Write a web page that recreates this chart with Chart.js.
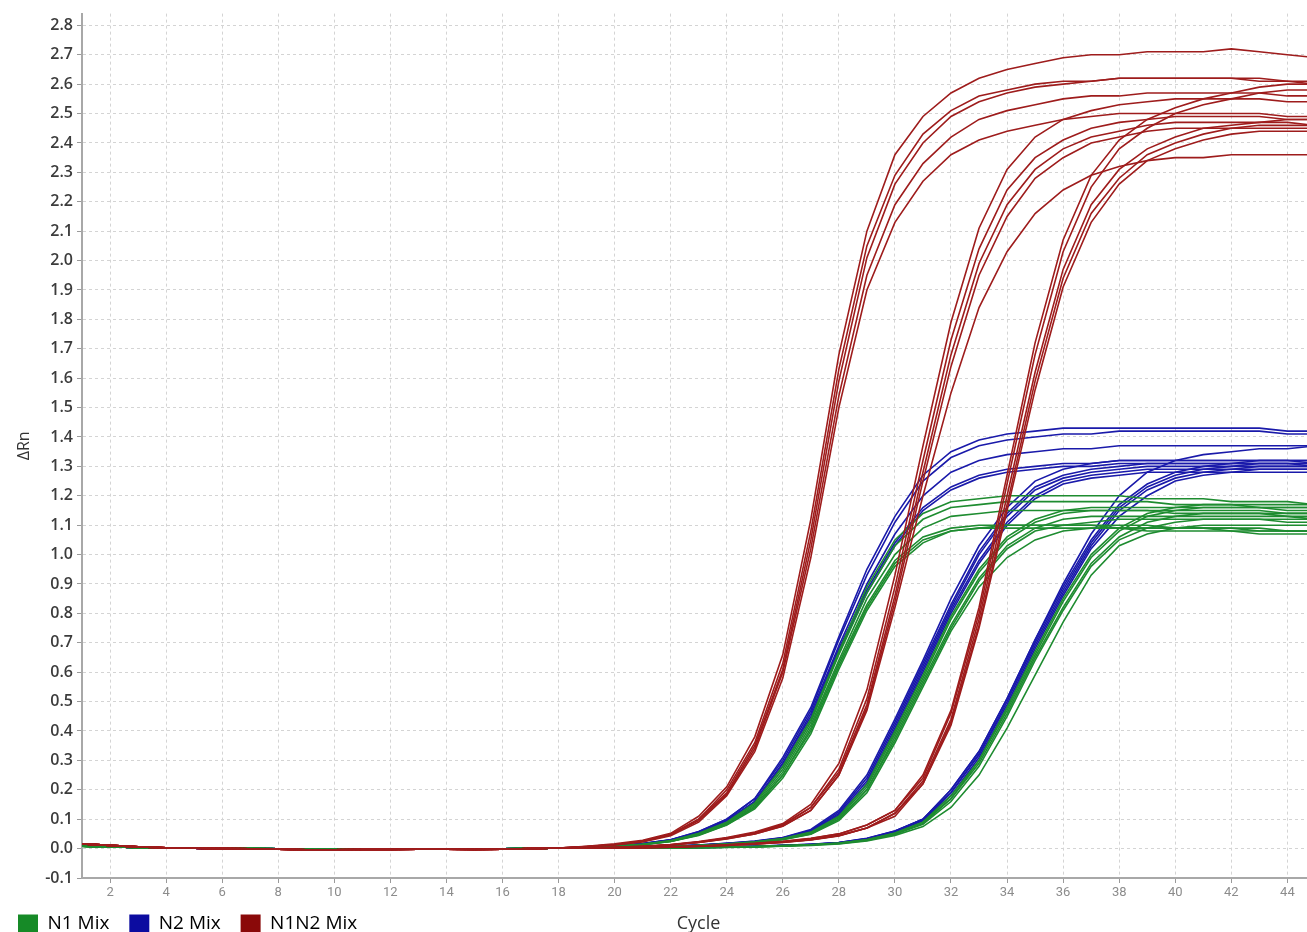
<!DOCTYPE html>
<html>
<head>
<meta charset="utf-8">
<script src="https://cdn.jsdelivr.net/npm/chart.js@4.4.1/dist/chart.umd.min.js"></script>
<style>
  html, body { margin: 0; padding: 0; background: #fff; }
</style>
</head>
<body>
<canvas id="ampChart" width="1307" height="932"></canvas>
<script>
// cycle numbers on the x axis
const cycles = [1,2,3,4,5,6,7,8,9,10,11,12,13,14,15,16,17,18,19,20,21,22,23,24,25,26,27,28,29,30,31,32,33,34,35,36,37,38,39,40,41,42,43,44,45];

// baseline (cycles 1-18), almost flat for every well
const baselineN1 = [0.008,0.006,0.004,0.002,0.001,0.001,0,-0.001,-0.003,-0.003,-0.002,-0.002,-0.001,-0.001,-0.002,-0.001,0,0.002];
const baselineN2 = [0.009,0.006,0.004,0.002,0.001,0,0,-0.001,-0.003,-0.003,-0.002,-0.002,-0.001,-0.001,-0.002,-0.001,0,0.002];
const baselineN1N2 = [0.016,0.011,0.006,0.003,0.001,0,-0.001,-0.002,-0.004,-0.004,-0.003,-0.003,-0.002,-0.002,-0.003,-0.002,0,0.002];

// ΔRn for cycles 19-45, one row per well
const n1Curves = [
  [0.003,0.008,0.015,0.027,0.052,0.09,0.155,0.28,0.44,0.67,0.89,1.05,1.14,1.18,1.19,1.20,1.20,1.20,1.20,1.20,1.19,1.19,1.19,1.18,1.18,1.18,1.17],
  [0.003,0.008,0.015,0.026,0.05,0.088,0.15,0.27,0.43,0.66,0.87,1.03,1.12,1.16,1.17,1.18,1.18,1.18,1.18,1.18,1.18,1.17,1.17,1.17,1.16,1.16,1.16],
  [0.003,0.007,0.014,0.025,0.048,0.085,0.145,0.26,0.42,0.64,0.85,1.00,1.09,1.13,1.14,1.15,1.15,1.15,1.15,1.15,1.15,1.14,1.14,1.14,1.14,1.13,1.13],
  [0.003,0.007,0.014,0.025,0.047,0.083,0.14,0.25,0.41,0.63,0.83,0.98,1.06,1.09,1.10,1.10,1.10,1.10,1.10,1.10,1.10,1.09,1.09,1.09,1.09,1.08,1.08],
  [0.003,0.007,0.013,0.024,0.046,0.081,0.14,0.25,0.40,0.62,0.82,0.97,1.05,1.08,1.09,1.10,1.10,1.10,1.10,1.09,1.09,1.09,1.09,1.08,1.08,1.08,1.08],
  [0.003,0.007,0.013,0.024,0.045,0.08,0.135,0.24,0.39,0.61,0.81,0.96,1.04,1.08,1.09,1.09,1.09,1.09,1.09,1.09,1.08,1.08,1.08,1.08,1.07,1.07,1.07],
  [0.001,0.002,0.004,0.007,0.011,0.016,0.023,0.034,0.056,0.11,0.22,0.40,0.59,0.79,0.95,1.06,1.12,1.15,1.16,1.16,1.16,1.16,1.16,1.16,1.16,1.15,1.15],
  [0.001,0.002,0.004,0.007,0.01,0.015,0.022,0.033,0.054,0.105,0.21,0.39,0.58,0.78,0.94,1.05,1.11,1.14,1.15,1.15,1.15,1.15,1.15,1.15,1.15,1.14,1.14],
  [0.001,0.002,0.004,0.006,0.01,0.015,0.021,0.032,0.052,0.10,0.20,0.38,0.57,0.76,0.92,1.03,1.09,1.12,1.13,1.13,1.13,1.13,1.13,1.13,1.13,1.13,1.12],
  [0.001,0.002,0.003,0.006,0.009,0.014,0.02,0.031,0.05,0.10,0.20,0.37,0.56,0.75,0.91,1.02,1.08,1.10,1.11,1.12,1.12,1.12,1.12,1.12,1.12,1.11,1.11],
  [0.001,0.002,0.003,0.006,0.009,0.014,0.02,0.03,0.049,0.095,0.19,0.36,0.55,0.74,0.89,0.99,1.05,1.08,1.09,1.09,1.09,1.09,1.09,1.09,1.08,1.08,1.08],
  [0.001,0.001,0.002,0.003,0.004,0.005,0.007,0.01,0.013,0.019,0.03,0.053,0.09,0.18,0.30,0.48,0.67,0.85,1.00,1.09,1.14,1.16,1.17,1.17,1.17,1.17,1.17],
  [0.001,0.001,0.002,0.003,0.004,0.005,0.007,0.01,0.013,0.018,0.03,0.052,0.09,0.17,0.30,0.47,0.66,0.84,0.99,1.08,1.13,1.15,1.16,1.16,1.16,1.16,1.16],
  [0.001,0.001,0.002,0.002,0.003,0.005,0.006,0.009,0.012,0.018,0.029,0.05,0.085,0.17,0.29,0.46,0.65,0.82,0.97,1.06,1.11,1.13,1.14,1.14,1.14,1.14,1.14],
  [0.001,0.001,0.002,0.002,0.003,0.005,0.006,0.009,0.012,0.017,0.028,0.049,0.083,0.16,0.28,0.45,0.64,0.81,0.96,1.05,1.09,1.11,1.12,1.12,1.12,1.12,1.12],
  [0.001,0.001,0.002,0.002,0.003,0.004,0.006,0.008,0.011,0.016,0.026,0.045,0.075,0.14,0.25,0.41,0.59,0.77,0.93,1.03,1.07,1.09,1.10,1.10,1.10,1.10,1.10]
];

const n2Curves = [
  [0.004,0.009,0.017,0.03,0.058,0.10,0.17,0.31,0.48,0.72,0.95,1.13,1.27,1.35,1.39,1.41,1.42,1.43,1.43,1.43,1.43,1.43,1.43,1.43,1.43,1.42,1.42],
  [0.004,0.009,0.017,0.03,0.057,0.10,0.17,0.30,0.47,0.71,0.93,1.11,1.25,1.33,1.37,1.39,1.40,1.41,1.41,1.42,1.42,1.42,1.42,1.42,1.42,1.41,1.41],
  [0.004,0.008,0.016,0.029,0.055,0.095,0.16,0.29,0.46,0.69,0.90,1.07,1.20,1.28,1.32,1.34,1.35,1.36,1.36,1.37,1.37,1.37,1.37,1.37,1.37,1.37,1.37],
  [0.004,0.008,0.016,0.029,0.055,0.095,0.16,0.29,0.45,0.68,0.88,1.04,1.16,1.23,1.27,1.29,1.30,1.31,1.31,1.32,1.32,1.32,1.32,1.32,1.32,1.32,1.32],
  [0.003,0.008,0.015,0.028,0.053,0.09,0.16,0.28,0.44,0.67,0.87,1.03,1.15,1.22,1.26,1.28,1.29,1.30,1.30,1.31,1.31,1.31,1.31,1.31,1.31,1.31,1.30],
  [0.002,0.003,0.005,0.008,0.012,0.018,0.026,0.038,0.065,0.13,0.25,0.44,0.64,0.85,1.03,1.16,1.25,1.29,1.31,1.32,1.32,1.32,1.32,1.32,1.32,1.32,1.31],
  [0.002,0.003,0.005,0.008,0.012,0.018,0.025,0.037,0.062,0.125,0.24,0.43,0.63,0.83,1.01,1.14,1.23,1.27,1.29,1.30,1.31,1.31,1.31,1.31,1.31,1.31,1.31],
  [0.002,0.003,0.005,0.007,0.011,0.017,0.024,0.036,0.06,0.12,0.23,0.42,0.62,0.82,1.00,1.13,1.22,1.26,1.28,1.29,1.30,1.30,1.30,1.30,1.30,1.30,1.30],
  [0.001,0.003,0.004,0.007,0.011,0.016,0.023,0.035,0.058,0.115,0.22,0.41,0.61,0.81,0.98,1.11,1.20,1.25,1.27,1.28,1.29,1.29,1.29,1.29,1.29,1.29,1.29],
  [0.001,0.003,0.004,0.007,0.011,0.016,0.023,0.034,0.057,0.11,0.22,0.40,0.60,0.80,0.97,1.10,1.19,1.24,1.26,1.27,1.28,1.28,1.28,1.28,1.28,1.28,1.28],
  [0.001,0.001,0.002,0.003,0.004,0.006,0.008,0.011,0.015,0.021,0.035,0.06,0.10,0.20,0.33,0.51,0.71,0.90,1.07,1.20,1.28,1.32,1.34,1.35,1.36,1.36,1.37],
  [0.001,0.001,0.002,0.003,0.004,0.006,0.008,0.011,0.015,0.021,0.034,0.06,0.10,0.20,0.33,0.51,0.71,0.89,1.05,1.17,1.24,1.28,1.30,1.31,1.32,1.32,1.32],
  [0.001,0.001,0.002,0.003,0.004,0.005,0.007,0.01,0.014,0.02,0.033,0.058,0.10,0.19,0.32,0.50,0.70,0.88,1.04,1.16,1.23,1.27,1.29,1.30,1.31,1.31,1.31],
  [0.001,0.001,0.002,0.003,0.004,0.005,0.007,0.01,0.014,0.02,0.032,0.056,0.095,0.19,0.32,0.49,0.69,0.87,1.03,1.15,1.22,1.26,1.28,1.29,1.30,1.30,1.30],
  [0.001,0.001,0.002,0.003,0.004,0.005,0.007,0.01,0.013,0.019,0.031,0.055,0.095,0.18,0.31,0.48,0.68,0.86,1.02,1.13,1.20,1.25,1.27,1.28,1.29,1.29,1.29]
];

const n1n2Curves = [
  [0.008,0.016,0.028,0.052,0.11,0.21,0.38,0.66,1.12,1.68,2.10,2.36,2.49,2.57,2.62,2.65,2.67,2.69,2.70,2.70,2.71,2.71,2.71,2.72,2.71,2.70,2.69],
  [0.007,0.014,0.026,0.049,0.10,0.20,0.36,0.63,1.08,1.63,2.05,2.29,2.43,2.51,2.56,2.58,2.60,2.61,2.61,2.62,2.62,2.62,2.62,2.62,2.61,2.61,2.60],
  [0.007,0.014,0.025,0.047,0.10,0.19,0.35,0.61,1.05,1.59,2.01,2.26,2.40,2.49,2.54,2.57,2.59,2.60,2.61,2.62,2.62,2.62,2.62,2.62,2.62,2.61,2.61],
  [0.006,0.013,0.024,0.046,0.095,0.185,0.34,0.60,1.02,1.54,1.95,2.19,2.33,2.42,2.48,2.51,2.53,2.55,2.56,2.56,2.57,2.57,2.57,2.57,2.57,2.56,2.56],
  [0.006,0.012,0.023,0.044,0.09,0.18,0.33,0.58,0.99,1.50,1.90,2.13,2.27,2.36,2.41,2.44,2.46,2.48,2.49,2.50,2.50,2.50,2.50,2.50,2.50,2.49,2.49],
  [0.002,0.004,0.008,0.014,0.024,0.038,0.056,0.085,0.15,0.29,0.54,0.93,1.37,1.79,2.11,2.31,2.42,2.48,2.51,2.53,2.54,2.55,2.55,2.55,2.55,2.54,2.54],
  [0.002,0.004,0.008,0.013,0.022,0.036,0.054,0.082,0.14,0.27,0.51,0.89,1.32,1.73,2.04,2.24,2.35,2.41,2.45,2.47,2.48,2.49,2.49,2.49,2.49,2.48,2.48],
  [0.002,0.004,0.007,0.013,0.022,0.035,0.052,0.079,0.14,0.26,0.49,0.86,1.28,1.68,1.99,2.19,2.31,2.38,2.42,2.44,2.46,2.47,2.47,2.47,2.47,2.47,2.46],
  [0.001,0.003,0.007,0.012,0.021,0.034,0.050,0.077,0.13,0.25,0.48,0.84,1.25,1.64,1.95,2.15,2.28,2.35,2.40,2.42,2.44,2.45,2.45,2.45,2.45,2.45,2.45],
  [0.001,0.003,0.007,0.012,0.021,0.033,0.050,0.076,0.13,0.25,0.47,0.82,1.20,1.55,1.84,2.03,2.16,2.24,2.29,2.32,2.34,2.35,2.35,2.36,2.36,2.36,2.36],
  [0.001,0.002,0.004,0.006,0.009,0.013,0.018,0.025,0.035,0.05,0.08,0.13,0.25,0.47,0.82,1.27,1.72,2.07,2.29,2.41,2.48,2.52,2.55,2.57,2.59,2.60,2.60],
  [0.001,0.002,0.004,0.006,0.009,0.013,0.017,0.024,0.034,0.05,0.08,0.13,0.24,0.46,0.80,1.24,1.68,2.03,2.25,2.38,2.45,2.50,2.53,2.55,2.57,2.58,2.58],
  [0.001,0.002,0.003,0.005,0.008,0.012,0.016,0.022,0.03,0.045,0.07,0.12,0.23,0.44,0.78,1.20,1.62,1.97,2.19,2.31,2.38,2.42,2.45,2.46,2.47,2.48,2.48],
  [0.001,0.002,0.003,0.005,0.008,0.011,0.016,0.022,0.03,0.044,0.07,0.12,0.22,0.43,0.76,1.17,1.59,1.94,2.16,2.28,2.36,2.40,2.43,2.45,2.46,2.46,2.46],
  [0.001,0.002,0.003,0.005,0.007,0.011,0.015,0.021,0.029,0.043,0.07,0.11,0.22,0.42,0.75,1.15,1.56,1.91,2.13,2.26,2.34,2.38,2.41,2.43,2.44,2.44,2.44]
];

const seriesNames = ["N1 Mix", "N2 Mix", "N1N2 Mix"];
const lineColors = ["#1e8c30", "#1a1aaa", "#9e1c1c"];
const boxColors = ["#168a27", "#0c0ca0", "#8a0909"];

const makeSets = (rows, base, idx) => rows.map(row => ({
  label: seriesNames[idx],
  data: base.concat(row).map((y, i) => ({ x: cycles[i], y })),
  borderColor: lineColors[idx],
  borderWidth: 1.6,
  pointRadius: 0,
  tension: 0,
  fill: false,
  order: [1, 2, 0][idx],
}));

const datasets = [
  ...makeSets(n1n2Curves, baselineN1N2, 2),
  ...makeSets(n1Curves, baselineN1, 0),
  ...makeSets(n2Curves, baselineN2, 1),
];

// "Cycle" sits on the legend row, to the right of the legend
const cycleTitle = {
  id: "cycleTitle",
  afterDraw(chart) {
    const { ctx, chartArea, legend } = chart;
    const y = legend.top + legend.options.labels.padding + 9.5;
    ctx.save();
    ctx.font = "18px 'Open Sans'";
    ctx.fillStyle = "#333";
    ctx.textAlign = "center";
    ctx.textBaseline = "middle";
    ctx.fillText("Cycle", (chartArea.left + chartArea.right) / 2 + 4, y);
    ctx.restore();
  },
};

new Chart(document.getElementById("ampChart"), {
  type: "line",
  data: { datasets },
  options: {
    responsive: false,
    animation: false,
    layout: { padding: { top: 12, right: 0, bottom: -11, left: 8 } },
    plugins: {
      tooltip: { enabled: false },
      legend: {
        position: "bottom",
        align: "start",
        onClick: () => {},
        labels: {
          boxWidth: 20,
          boxHeight: 18,
          padding: 10,
          color: "#444",
          font: { family: "Open Sans", size: 19 },
          // trailing spaces widen the gap between legend entries
          generateLabels: () => seriesNames.map((name, i) => ({
            text: name + "  ",
            fillStyle: boxColors[i],
            strokeStyle: boxColors[i],
            lineWidth: 0,
            hidden: false,
            datasetIndex: i,
          })),
        },
      },
    },
    scales: {
      x: {
        type: "linear",
        min: 1,
        max: 44.7,
        afterFit: (s) => { s.height = 26; },
        ticks: {
          stepSize: 2,
          includeBounds: false,
          color: "#8c8c8c",
          padding: 2,
          maxRotation: 0,
          font: { family: "Roboto", size: 13 },
        },
        grid: { color: "#d4d4d4", tickColor: "#9a9a9a", tickLength: 5 },
        border: { color: "#a8a8a8", width: 2, dash: [3, 3] },
      },
      y: {
        min: -0.1,
        max: 2.84,
        afterFit: (s) => { s.width = 74; },
        ticks: {
          stepSize: 0.1,
          includeBounds: false,
          color: "#3c3c3c",
          padding: 4,
          font: { family: "Open Sans", size: 16, weight: "600" },
          callback: (v) => v.toFixed(1),
        },
        title: {
          display: true,
          text: "ΔRn",
          color: "#333",
          padding: { top: 7, bottom: 0 },
          font: { family: "Open Sans", size: 16 },
        },
        grid: { color: "#d4d4d4", tickColor: "#9a9a9a", tickLength: 5 },
        border: { color: "#a8a8a8", width: 2, dash: [3, 3] },
      },
    },
  },
  plugins: [cycleTitle],
});
</script>
</body>
</html>
